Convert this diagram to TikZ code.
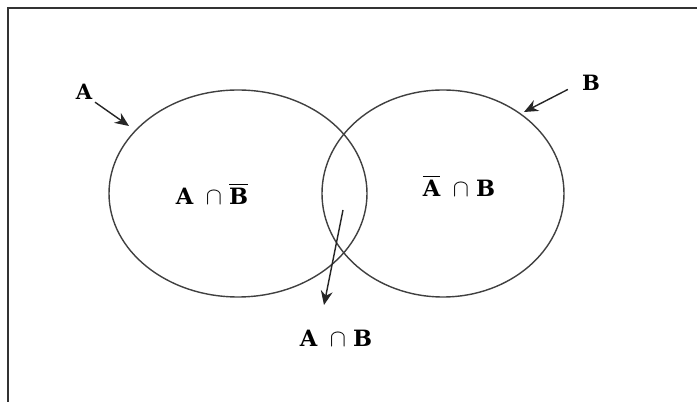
\documentclass[tikz,border=0pt]{standalone}
\usepackage{amsmath,amssymb}
\usepackage{fontspec}
\setmainfont{DejaVu Serif}
\usepackage{tikz}
\usetikzlibrary{arrows.meta,positioning}

\begin{document}
\begin{tikzpicture}[
  set/.style={draw=black!75, line width=1pt},
  pointer/.style={draw=black!85, line width=1pt, -{Stealth[length=10pt,width=8.5pt]}},
  region/.style={font=\fontsize{16}{18}\bfseries, inner sep=1pt},
  setname/.style={font=\fontsize{15}{17}\bfseries, inner sep=1pt}
]
\useasboundingbox (0,0) rectangle (17.425,10.05);
% rahmen
\draw[black!80, line width=1.4pt] (0.2,0) -- (0.2,9.85) -- (17.425,9.85);

% die beiden mengen
\draw[set] (5.95,5.2125) ellipse (3.225 and 2.5875);
\draw[set] (11.075,5.2125) ellipse (3.025 and 2.5875);

% beschriftungen
\node[setname] (lblA) at (2.1,7.75) {A};
\node[setname] (lblB) at (14.775,7.975) {B};
\node[region] (lblAnotB) at (5.3,5.2) {A\hspace{9pt}$\cap$\hspace{5pt}$\overline{\mbox{B}}$};
\node[region] (lblnotAB) at (11.475,5.4) {$\overline{\mbox{A}}$\hspace{9pt}$\cap$\hspace{5pt}B};
\node[region] (lblAB) at (8.4,1.6) {A\hspace{9pt}$\cap$\hspace{5pt}B};

% pfeile
\coordinate (tipA) at (3.225,6.9);
\coordinate (tipB) at (13.1,7.25);
\coordinate (startAB) at (8.575,4.8);
\coordinate (tipAB) at (8.1,2.425);
\draw[pointer, shorten <=1pt] (lblA.south east) -- (tipA);
\draw[pointer, shorten <=10pt] (lblB.west) -- (tipB);
\draw[pointer] (startAB) -- (tipAB);
\end{tikzpicture}
\end{document}
